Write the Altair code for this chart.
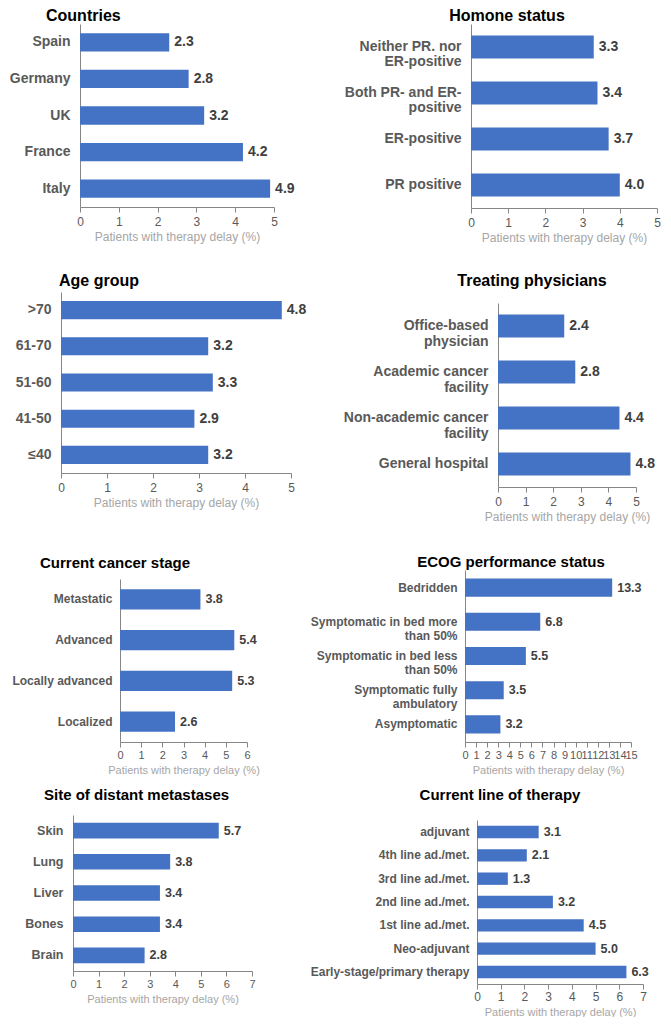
import altair as alt
import pandas as pd

# ---------------- data ----------------
countries = ["Spain", "Germany", "UK", "France", "Italy"]
countries_val = [2.3, 2.8, 3.2, 4.2, 4.9]

hormone = ["Neither PR. nor|ER-positive", "Both PR- and ER-|positive", "ER-positive", "PR positive"]
hormone_val = [3.3, 3.4, 3.7, 4.0]

age = [">70", "61-70", "51-60", "41-50", "≤40"]
age_val = [4.8, 3.2, 3.3, 2.9, 3.2]

physicians = ["Office-based|physician", "Academic cancer|facility",
              "Non-academic cancer|facility", "General hospital"]
physicians_val = [2.4, 2.8, 4.4, 4.8]

stage = ["Metastatic", "Advanced", "Locally advanced", "Localized"]
stage_val = [3.8, 5.4, 5.3, 2.6]

ecog = ["Bedridden", "Symptomatic in bed more|than 50%", "Symptomatic in bed less|than 50%",
        "Symptomatic fully|ambulatory", "Asymptomatic"]
ecog_val = [13.3, 6.8, 5.5, 3.5, 3.2]

sites = ["Skin", "Lung", "Liver", "Bones", "Brain"]
sites_val = [5.7, 3.8, 3.4, 3.4, 2.8]

therapy = ["adjuvant", "4th line ad./met.", "3rd line ad./met.", "2nd line ad./met.",
           "1st line ad./met.", "Neo-adjuvant", "Early-stage/primary therapy"]
therapy_val = [2.6, 2.1, 1.3, 3.2, 4.5, 5.0, 6.3]          # bar lengths as drawn
therapy_lab = ["3.1", "2.1", "1.3", "3.2", "4.5", "5.0", "6.3"]  # printed labels

AXIS_TITLE = "Patients with therapy delay (%)"

# ---------------- style ----------------
BLUE = "#4472C4"
FONT = "Liberation Sans"
AXC = "#868686"


def panel(cats, vals, labels, title, *, width, height, xmax, ext, anchor, tdx, toff,
          tfs, lfs, lpad, llh, vfs, tkfs, atfs, tkpad, pin=0.5, pout=0.25):
    df = pd.DataFrame({"cat": cats, "val": vals, "lab": labels})
    y = alt.Y("cat:N", sort=cats, title=None,
              scale=alt.Scale(paddingInner=pin, paddingOuter=pout),
              axis=alt.Axis(domainColor=AXC, ticks=False, grid=False,
                            labelPadding=lpad, labelColor="#595959", labelFont=FONT,
                            labelFontWeight="bold", labelFontSize=lfs, labelLineHeight=llh,
                            labelLimit=400, labelExpr="split(datum.label, '|')",
                            minExtent=ext, maxExtent=ext))
    x = alt.X("val:Q", title=AXIS_TITLE,
              scale=alt.Scale(domain=[0, xmax], nice=False, zero=True),
              axis=alt.Axis(values=list(range(xmax + 1)), format="d", grid=False,
                            domainColor=AXC, tickColor=AXC, tickSize=5,
                            labelColor="#595959", labelFont=FONT, labelFontSize=tkfs,
                            labelPadding=tkpad, labelFlush=False, labelOverlap=False,
                            titleColor="#a6a6a6", titleFont=FONT, titleFontSize=atfs,
                            titleFontWeight="normal", titlePadding=4))
    base = alt.Chart(df)
    bars = base.mark_bar(color=BLUE).encode(x=x, y=y)
    text = base.mark_text(align="left", baseline="middle", dx=5, font=FONT,
                          fontWeight="bold", fontSize=vfs, color="#404040").encode(
        x=x, y=y, text="lab:N")
    return alt.layer(bars, text).properties(
        width=width, height=height,
        title=alt.TitleParams(title, anchor=anchor, frame="group", dx=tdx, offset=toff,
                              font=FONT, fontSize=tfs, fontWeight="bold", color="black"))


def spacer(w, h):
    return alt.Chart(pd.DataFrame({"t": [""]})).mark_text().encode(
        text="t:N").properties(width=w, height=h)


def fmt(v):
    return [f"{x:.1f}" for x in v]


BIG = dict(tfs=16, lfs=14, lpad=10, vfs=14, tkfs=12, atfs=12, tkpad=4)
SMALL = dict(tfs=15, lfs=12.5, lpad=10, vfs=12.5, tkfs=11, atfs=11, tkpad=2)

p1 = panel(countries, countries_val, fmt(countries_val), "Countries", width=194, height=183,
           xmax=5, ext=70, anchor="start", tdx=-34, toff=0, llh=15, **BIG)
p3 = panel(age, age_val, fmt(age_val), "Age group", width=230, height=181,
           xmax=5, ext=52, anchor="start", tdx=-2, toff=3, llh=15, **BIG)
p5 = panel(stage, stage_val, fmt(stage_val), "Current cancer stage", width=127, height=163,
           xmax=6, ext=111, anchor="start", tdx=-80, toff=8, llh=14,
           **{**SMALL, "lfs": 12, "lpad": 8})
p7 = panel(sites, sites_val, fmt(sites_val), "Site of distant metastases", width=179, height=156,
           xmax=7, ext=64, anchor="start", tdx=-29, toff=12, llh=14, **SMALL)

p2 = panel(hormone, hormone_val, fmt(hormone_val), "Homone status", width=186, height=184,
           xmax=5, ext=161, anchor="middle", tdx=-57, toff=0, llh=15, **BIG)
p4 = panel(physicians, physicians_val, fmt(physicians_val), "Treating physicians", width=138,
           height=184, xmax=5, ext=188, anchor="middle", tdx=-35, toff=14, llh=16, **BIG)
p6 = panel(ecog, ecog_val, fmt(ecog_val), "ECOG performance status", width=166, height=172,
           xmax=15, ext=154, anchor="middle", tdx=-37, toff=0, llh=14, pin=0.47,
           **{**SMALL, "lfs": 12, "lpad": 8})
p8 = panel(therapy, therapy_val, therapy_lab, "Current line of therapy", width=166, height=164,
           xmax=7, ext=164, anchor="middle", tdx=-60, toff=17, llh=14, pin=0.47,
           **{**SMALL, "tkfs": 12, "lfs": 12, "lpad": 8})

# vertical layout: spacer heights that fix each next panel's plot top
left_tops = [24, 292, 579, 815]
left_over = [16, 3 + 16, 8 + 15, 12 + 15]
right_tops = [24, 303, 570, 820]
right_over = [16, 14 + 16, 0 + 15, 17 + 15]


def column(panels, tops, over):
    cells = []
    for i, p in enumerate(panels):
        h = tops[i + 1] - tops[i] - over[i + 1] if i + 1 < len(panels) else 1
        cells.append(alt.hconcat(spacer(1, h), p, spacing=0))
    return cells


left_cells = column([p1, p3, p5, p7], left_tops, left_over)
right_cells = column([p2, p4, p6, p8], right_tops, right_over)

W = 301
left_col = alt.vconcat(*left_cells, spacer(W, 1), spacing=0)
right_col = alt.vconcat(*right_cells, spacing=0)

chart = alt.hconcat(left_col, right_col, spacing=0).configure_view(
    stroke=None).properties(padding=0)

chart.save("out.html", embed_options={"renderer": "svg", "actions": False})
